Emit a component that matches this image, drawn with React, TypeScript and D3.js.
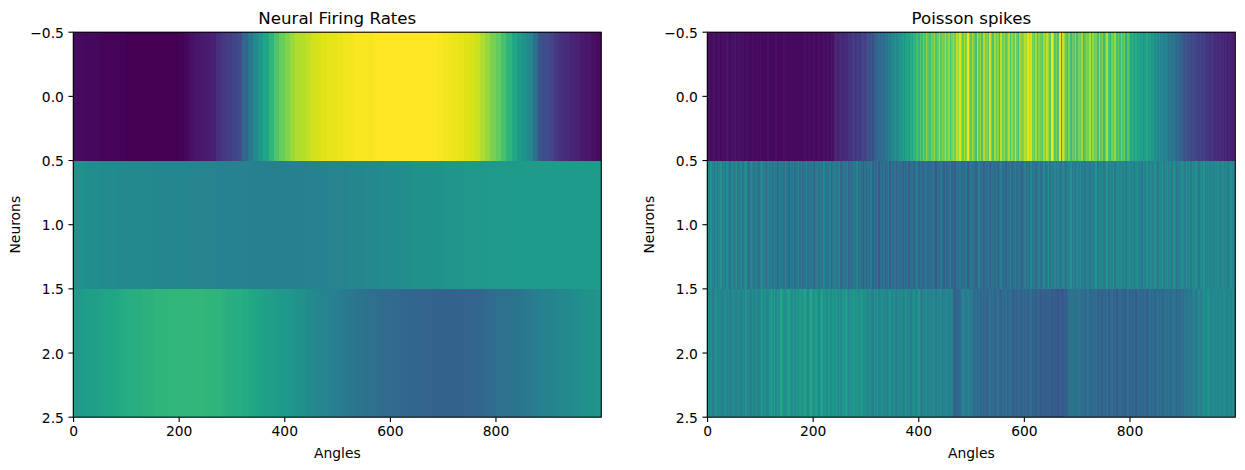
import { useEffect, useRef } from "react";
import * as d3 from "d3";

const neuronLabels = [0, 1, 2];
const rateStep = 10;
const spikeStep = 3;

const rateNeuron0 = [
  3, 3, 2, 2, 2, 1, 1, 1, 1, 1, 0, 0, 0, 0, 0, 0, 0, 0, 0, 0,
  1, 2, 4, 6, 7, 8, 9, 13, 16, 18, 20, 23, 33, 40, 47, 53, 59, 65, 72, 77,
  81, 85, 88, 89, 91, 93, 94, 95, 96, 96, 97, 98, 98, 99, 99, 99, 99, 100, 100, 100,
  100, 100, 100, 100, 100, 100, 100, 100, 100, 99, 98, 98, 97, 96, 95, 94, 92, 88, 84, 80,
  76, 71, 65, 60, 55, 51, 46, 36, 25, 23, 20, 16, 14, 12, 10, 9, 7, 6, 4, 3,
];
const rateNeuron1 = [
  50, 50, 49, 49, 49, 48, 48, 48, 47, 47, 47, 47, 47, 47, 47, 46, 46, 46, 46, 46,
  46, 46, 45, 45, 45, 45, 45, 44, 44, 44, 44, 44, 44, 44, 43, 43, 43, 43, 43, 43,
  43, 43, 43, 43, 44, 44, 44, 44, 45, 45, 45, 45, 46, 46, 46, 47, 47, 47, 48, 48,
  48, 49, 49, 49, 50, 50, 50, 51, 51, 51, 52, 52, 52, 52, 53, 53, 53, 53, 54, 54,
  54, 54, 54, 54, 54, 55, 55, 55, 55, 55, 55, 55, 55, 55, 55, 55, 55, 55, 55, 55,
];
const rateNeuron2 = [
  55, 55, 56, 56, 57, 58, 59, 59, 60, 61, 62, 63, 63, 64, 64, 65, 65, 65, 66, 66,
  66, 66, 66, 66, 66, 65, 65, 65, 64, 63, 62, 62, 61, 60, 59, 58, 57, 56, 55, 54,
  53, 52, 51, 50, 48, 47, 46, 45, 44, 43, 42, 41, 40, 39, 38, 37, 36, 36, 35, 35,
  34, 34, 33, 33, 33, 32, 32, 32, 32, 31, 31, 31, 31, 32, 32, 32, 33, 33, 34, 35,
  36, 36, 37, 38, 39, 40, 41, 42, 43, 44, 45, 46, 47, 47, 48, 49, 50, 50, 51, 52,
];

const spikeNeuron0 = [
  4, 5, 3, 4, 6, 3, 4, 5, 3, 5, 4, 3, 6, 4, 3, 5, 4, 6, 3, 4,
  5, 3, 4, 2, 3, 5, 3, 2, 4, 3, 2, 3, 2, 4, 2, 3, 3, 2, 4, 2,
  3, 2, 3, 4, 2, 3, 2, 2, 4, 2, 3, 2, 3, 2, 2, 3, 2, 3, 2, 2,
  3, 4, 2, 3, 5, 2, 3, 4, 2, 3, 4, 2, 3, 5, 2, 4, 5, 3, 6, 4,
  10, 12, 9, 11, 13, 10, 14, 12, 11, 15, 13, 16, 18, 14, 17, 19, 16, 20, 22, 18,
  23, 25, 22, 27, 24, 30, 33, 30, 36, 34, 38, 35, 42, 39, 44, 41, 47, 43, 50, 46,
  48, 53, 50, 56, 52, 58, 61, 56, 63, 59, 66, 62, 70, 65, 74, 68, 78, 71, 82, 75,
  70, 80, 76, 84, 72, 78, 86, 74, 82, 78, 88, 76, 84, 72, 80, 86, 78, 90, 83, 96,
  84, 76, 88, 80, 98, 82, 74, 86, 78, 70, 92, 76, 84, 72, 88, 78, 82, 74, 94, 80,
  72, 86, 76, 82, 70, 90, 78, 84, 74, 80, 88, 72, 84, 76, 92, 78, 70, 86, 80, 82,
  90, 84, 96, 88, 94, 80, 76, 86, 72, 82, 78, 74, 86, 80, 90, 84, 76, 98, 88, 74,
  80, 72, 96, 58, 92, 84, 76, 70, 82, 68, 78, 74, 84, 70, 80, 76, 86, 68, 74, 82,
  78, 88, 72, 84, 76, 80, 70, 86, 74, 82, 68, 78, 88, 72, 66, 80, 74, 84, 70, 76,
  68, 82, 72, 78, 64, 74, 70, 60, 66, 58, 62, 56, 60, 54, 58, 52, 56, 61, 53, 57,
  50, 55, 48, 52, 46, 50, 44, 48, 42, 46, 41, 38, 42, 37, 40, 35, 33, 36, 31, 29,
  27, 25, 28, 23, 25, 21, 23, 20, 22, 19, 18, 20, 17, 19, 16, 15, 17, 14, 16, 13,
  12, 14, 11, 13, 10, 12, 9, 11, 8, 10, 9, 7, 9, 8,
];
const spikeNeuron1 = [
  46, 42, 50, 44, 38, 48, 41, 47, 52, 40, 45, 38, 49, 43, 36, 47, 41, 44, 50, 39,
  42, 48, 37, 45, 51, 40, 34, 47, 43, 38, 46, 41, 36, 44, 49, 39, 42, 35, 45, 40,
  43, 37, 44, 41, 34, 46, 39, 43, 36, 48, 40, 33, 44, 38, 42, 35, 41, 46, 37, 43,
  34, 39, 45, 35, 42, 37, 46, 33, 40, 44, 36, 42, 38, 47, 34, 41, 37, 44, 32, 39,
  43, 35, 40, 46, 33, 38, 42, 36, 44, 31, 39, 35, 41, 37, 45, 33, 40, 36, 29, 38,
  33, 39, 35, 42, 31, 37, 33, 40, 28, 36, 32, 38, 30, 35, 41, 29, 37, 33, 39, 31,
  36, 34, 40, 30, 37, 33, 41, 29, 36, 39, 32, 35, 42, 31, 38, 34, 30, 37, 40, 33,
  36, 31, 39, 34, 28, 37, 32, 41, 35, 30, 38, 33, 36, 42, 31, 35, 29, 38, 34, 40,
  32, 37, 33, 40, 30, 36, 41, 34, 38, 31, 35, 43, 33, 37, 30, 39, 35, 42, 32, 36,
  38, 34, 41, 32, 37, 43, 35, 39, 31, 40, 36, 44, 33, 38, 42, 35, 41, 37, 32, 39,
  43, 36, 40, 34, 46, 38, 42, 35, 39, 45, 37, 41, 48, 36, 42, 50, 38, 44, 40, 47,
  39, 45, 41, 36, 48, 42, 38, 46, 43, 50, 40, 44, 37, 47, 42, 49, 41, 45, 39, 46,
  43, 38, 48, 41, 45, 52, 40, 47, 43, 50, 38, 46, 53, 42, 48, 44, 51, 40, 47, 49,
  45, 50, 43, 48, 41, 46, 52, 44, 49, 42, 47, 51, 43, 46, 40, 48, 44, 50, 42, 47,
  48, 43, 52, 45, 40, 49, 46, 53, 42, 47, 50, 44, 48, 41, 51, 45, 39, 47, 43, 50,
  46, 42, 49, 44, 51, 41, 47, 43, 50, 45, 40, 48, 44, 52, 42, 46, 49, 43, 47, 41,
  48, 44, 50, 42, 46, 49, 43, 47, 41, 45, 50, 44, 48, 43,
];
const spikeNeuron2 = [
  47, 44, 49, 42, 46, 50, 43, 48, 45, 41, 47, 51, 44, 48, 42, 46, 50, 45, 43, 49,
  46, 41, 48, 44, 52, 45, 47, 42, 49, 44, 51, 46, 43, 48, 54, 46, 50, 44, 47, 52,
  58, 49, 55, 47, 52, 46, 60, 54, 50, 47, 53, 58, 51, 48, 55, 49, 53, 47, 56, 50,
  53, 58, 50, 47, 55, 60, 52, 49, 56, 51, 47, 54, 59, 50, 53, 48, 56, 51, 46, 53,
  50, 55, 48, 52, 46, 54, 49, 57, 51, 47, 53, 50, 55, 48, 52, 46, 50, 54, 47, 51,
  49, 45, 52, 47, 43, 50, 46, 53, 44, 48, 51, 45, 49, 43, 47, 52, 44, 50, 46, 42,
  48, 45, 50, 43, 47, 51, 44, 48, 41, 46, 50, 43, 47, 53, 44, 41, 48, 45, 50, 43,
  47, 42, 46, 49, 41, 45, 43, 48, 40, 44, 44, 46, 42, 45, 43, 33, 31, 33, 32, 34,
  41, 44, 43, 40, 44, 42, 41, 43, 34, 38, 33, 36, 31, 35, 32, 37, 30, 34, 38, 33,
  36, 31, 35, 38, 33, 30, 36, 32, 37, 31, 34, 38, 33, 29, 35, 31, 37, 33, 30, 36,
  32, 35, 30, 34, 37, 31, 33, 29, 35, 32, 28, 33, 30, 27, 31, 29, 32, 27, 30, 28,
  29, 26, 30, 28, 27, 31, 29, 33, 36, 38, 40, 37, 39, 36, 41, 38, 35, 37, 33, 36,
  38, 34, 31, 36, 33, 37, 30, 35, 32, 28, 34, 31, 36, 29, 33, 37, 30, 34, 28, 32,
  35, 30, 33, 27, 31, 36, 29, 33, 30, 34, 28, 32, 36, 30, 34, 31, 35, 29, 33, 37,
  32, 36, 31, 34, 38, 33, 36, 31, 35, 39, 34, 37, 32, 36, 40, 35, 33, 38, 34, 37,
  36, 41, 37, 40, 43, 38, 42, 46, 40, 44, 48, 42, 46, 51, 45, 49, 54, 47, 44, 50,
  46, 49, 44, 48, 43, 47, 51, 45, 42, 48, 44, 50, 46, 43,
];

const panels = [
  { title: "Neural Firing Rates", left: 73.3, step: rateStep, rows: [rateNeuron0, rateNeuron1, rateNeuron2] },
  { title: "Poisson spikes", left: 707.3, step: spikeStep, rows: [spikeNeuron0, spikeNeuron1, spikeNeuron2] },
];

const xTicks = [0, 200, 400, 600, 800];
const yTicks = [-0.5, 0, 0.5, 1, 1.5, 2, 2.5];

const App = () => {
  const svgRef = useRef<SVGSVGElement | null>(null);

  useEffect(() => {
    const svg = d3.select(svgRef.current);
    svg.selectAll("*").remove();

    const top = 32.2;
    const width = 528;
    const height = 385;
    const font = "'DejaVu Sans', sans-serif";

    panels.forEach((panel) => {
      const g = svg.append("g").attr("transform", `translate(${panel.left}, ${top})`);

      const xScale = d3.scaleLinear().domain([-0.5, 999.5]).range([0, width]).clamp(true);
      const yScale = d3.scaleLinear().domain([-0.5, 2.5]).range([0, height]);

      neuronLabels.forEach((neuron) => {
        g.append("g")
          .selectAll("rect")
          .data(panel.rows[neuron])
          .join("rect")
          .attr("x", (_, i) => xScale(i * panel.step - 0.5))
          .attr("width", (_, i) => xScale((i + 1) * panel.step - 0.5) - xScale(i * panel.step - 0.5))
          .attr("y", yScale(neuron - 0.5))
          .attr("height", yScale(neuron + 0.5) - yScale(neuron - 0.5))
          .attr("shape-rendering", "crispEdges")
          .attr("fill", (d) => d3.interpolateViridis(d / 100));
      });

      const xAxis = d3.axisBottom(xScale).tickValues(xTicks).tickFormat(d3.format("d")).tickSize(4.86).tickPadding(4.5).offset(0);
      const yAxis = d3.axisLeft(yScale).tickValues(yTicks).tickFormat(d3.format(".1f")).tickSize(4.86).tickPadding(4.5).offset(0);

      const xG = g.append("g").attr("transform", `translate(0, ${height})`).call(xAxis);
      const yG = g.append("g").call(yAxis);
      [xG, yG].forEach((axis) => {
        axis.attr("font-family", font).attr("font-size", 13.89);
        axis.selectAll(".domain").remove();
        axis.selectAll("line").attr("stroke", "#000").attr("stroke-width", 1.11);
        axis.selectAll("text").attr("fill", "#000");
      });
      // matplotlib centres the y labels a little lower than d3's default
      yG.selectAll("text").attr("dy", "0.4em");

      // frame on top of the image
      g.append("rect")
        .attr("width", width)
        .attr("height", height)
        .attr("fill", "none")
        .attr("stroke", "#000")
        .attr("stroke-width", 1.11);

      g.append("text")
        .attr("x", width / 2)
        .attr("y", -8.2)
        .attr("text-anchor", "middle")
        .attr("font-family", font)
        .attr("font-size", 16.67)
        .text(panel.title);

      g.append("text")
        .attr("x", width / 2)
        .attr("y", height + 41)
        .attr("text-anchor", "middle")
        .attr("font-family", font)
        .attr("font-size", 13.89)
        .text("Angles");

      g.append("text")
        .attr("transform", `translate(-53, ${height / 2}) rotate(-90)`)
        .attr("text-anchor", "middle")
        .attr("font-family", font)
        .attr("font-size", 13.89)
        .text("Neurons");
    });
  }, []);

  return (
    <svg
      ref={svgRef}
      width={1245}
      height={470}
      style={{ position: "absolute", left: 0, top: 0, display: "block", background: "#fff" }}
    />
  );
};

export default App;
